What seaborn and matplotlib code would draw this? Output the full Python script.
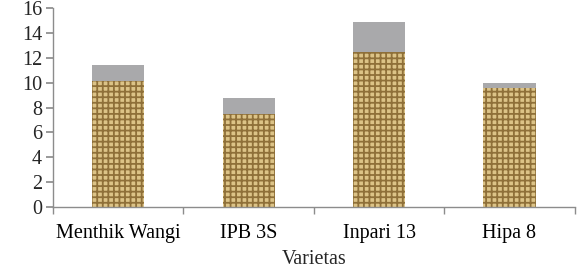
import matplotlib
matplotlib.use("Agg")
import matplotlib.pyplot as plt
import seaborn as sns
import pandas as pd
import numpy as np

categories = ["Menthik Wangi", "IPB 3S", "Inpari 13", "Hipa 8"]
bottom_vals = [10.1, 7.5, 12.5, 9.6]
top_vals = [1.3, 1.25, 2.4, 0.35]
yticks = [0, 2, 4, 6, 8, 10, 12, 14, 16]

sns.set_theme(style="white")
plt.rcParams["font.family"] = ["Liberation Serif", "DejaVu Serif"]
plt.rcParams["hatch.linewidth"] = 1.3

totals = [b + t for b, t in zip(bottom_vals, top_vals)]
df = pd.DataFrame({"Varietas": categories, "bottom": bottom_vals, "total": totals})

fig = plt.figure(figsize=(5.77, 2.70), dpi=100)
ax = fig.add_axes([0.092, 0.233, 0.904, 0.737])

sns.barplot(data=df, x="Varietas", y="total", color="#a9a9ab", width=0.4,
            saturation=1, ax=ax, linewidth=0)
sns.barplot(data=df, x="Varietas", y="bottom", color="#dcc387", width=0.4,
            saturation=1, ax=ax, linewidth=0)
for p in ax.patches[len(categories):]:
    p.set_hatch("+++")
    p.set_edgecolor("#8f7039")
    p.set_linewidth(0)

ax.set_ylim(0, 16)
ax.set_xlim(-0.5, 3.5)
ax.set_yticks(yticks)
ax.set_yticklabels([str(v) for v in yticks], fontsize=14.5)
ax.set_xticks(range(len(categories)))
ax.set_xticklabels(categories, fontsize=14.5)
ax.set_xticks(np.arange(-0.5, len(categories), 1.0), minor=True)
ax.tick_params(axis="x", which="major", length=0, pad=12, colors="black")
ax.tick_params(axis="x", which="minor", length=5, color="#8c8c8c", direction="out", bottom=True)
ax.tick_params(axis="y", length=5, color="#8c8c8c", direction="out", left=True, pad=3)
ax.set_ylabel("")
ax.set_xlabel("Varietas", fontsize=14.5, labelpad=5)
for s in ["top", "right"]:
    ax.spines[s].set_visible(False)
for s in ["left", "bottom"]:
    ax.spines[s].set_color("#8c8c8c")
    ax.spines[s].set_linewidth(1)

fig.savefig("out.png", dpi=100)
